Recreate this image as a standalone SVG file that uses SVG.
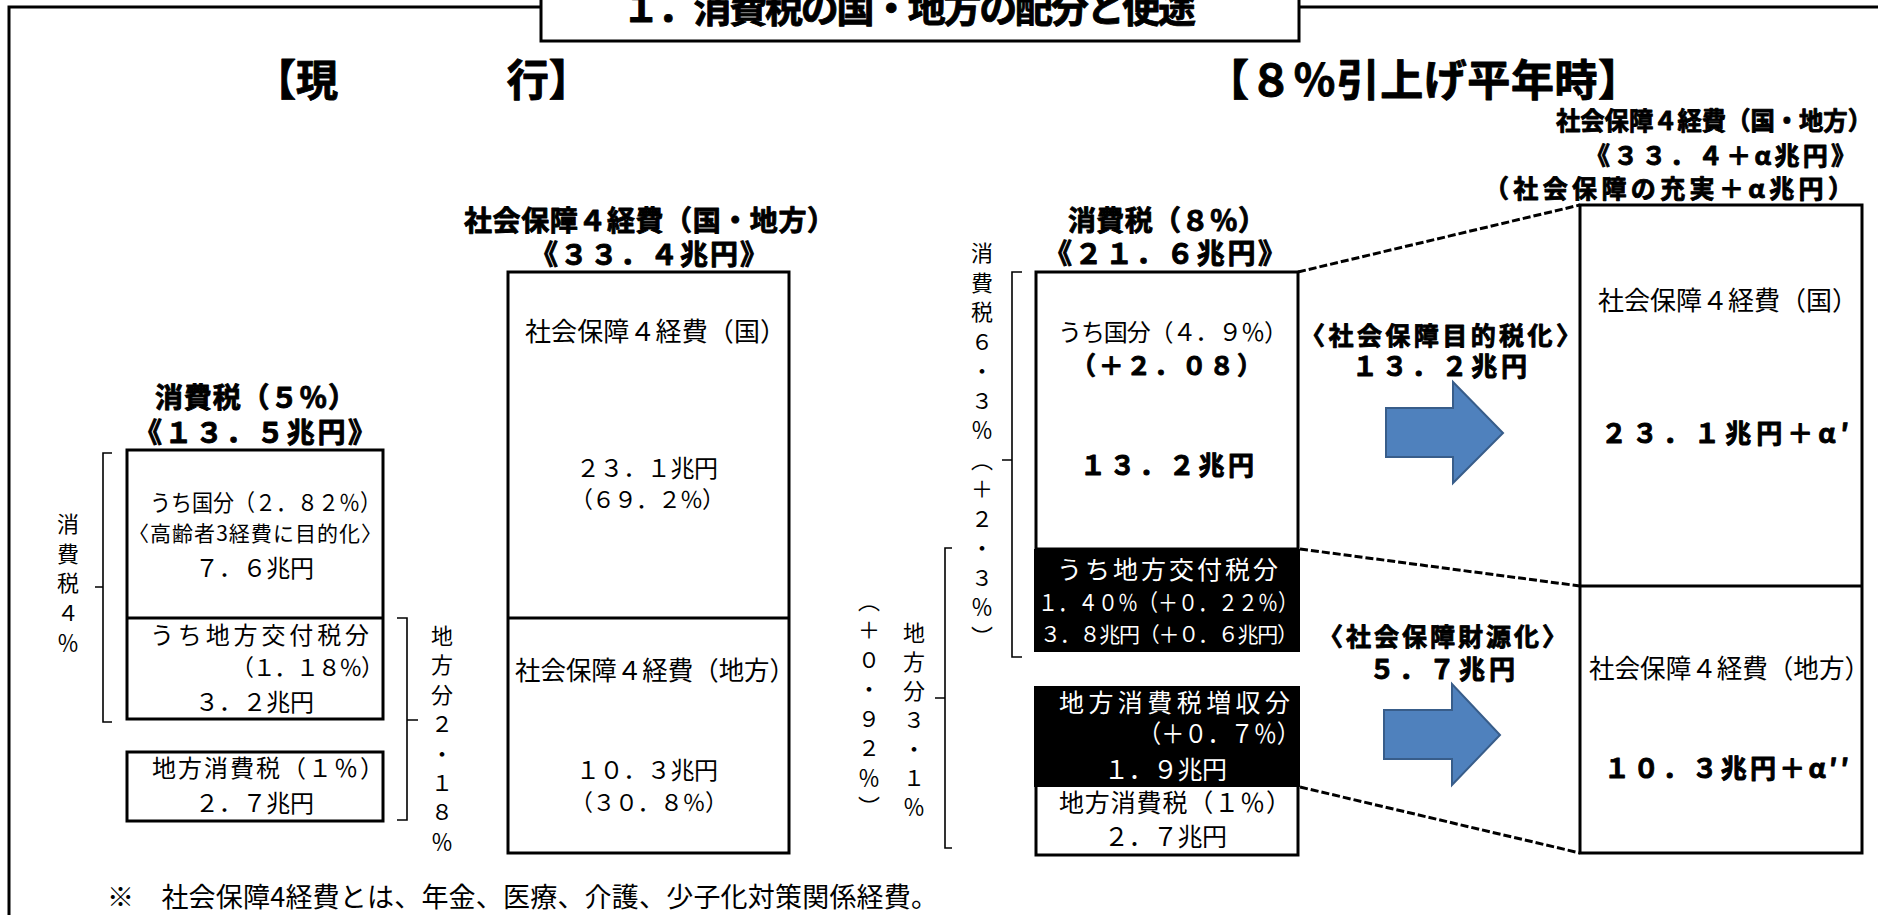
<svg xmlns="http://www.w3.org/2000/svg" width="1878" height="915" viewBox="0 0 1878 915" lang="ja">
<style>
.t{font-family:'Noto Sans CJK JP','Noto Sans CJK SC',sans-serif;fill:#000;font-weight:400}
.b{font-weight:700;stroke:#000;stroke-width:0.9;stroke-linejoin:round}
.w{fill:#fff}
.box{fill:#fff;stroke:#000;stroke-width:3}
.blk{fill:#000}
.br{fill:none;stroke:#000;stroke-width:1.6}
.dash{fill:none;stroke:#000;stroke-width:3;stroke-dasharray:8 3}
.arrow{fill:#4F81BD;stroke:#385D8A;stroke-width:2}
.frame{fill:none;stroke:#000;stroke-width:3}
</style>
<rect x="0" y="0" width="1878" height="915" fill="#fff"/>
<rect class="frame" x="9" y="7" width="1900" height="1000"/>

<g id="title">
<rect class="box" x="541" y="-30" width="758" height="71"/>
<text class="t b" x="622" y="22" font-size="38" textLength="574">１．消費税の国・地方の配分と使途</text>
</g>

<g id="heading-current">
<text class="t b" x="254" y="96" font-size="43" textLength="337" lengthAdjust="spacingAndGlyphs">【現　　　　行】</text>
</g>
<g id="heading-8pct">
<text class="t b" x="1206" y="96" font-size="43" textLength="435">【８％引上げ平年時】</text>
</g>

<g id="connectors">
<path class="dash" d="M1298,272 L1580,205"/>
<path class="dash" d="M1300,549 L1580,586"/>
<path class="dash" d="M1300,787 L1580,853"/>
</g>

<g id="brackets">
<path class="br" d="M112,453 H103 V722 H112 M103,587 H95"/>
<path class="br" d="M397,618 H407 V820 H397 M407,720 H418"/>
<path class="br" d="M1022,272 H1012 V657 H1022 M1012,460 H1002"/>
<path class="br" d="M952,548 H945 V848 H952 M945,698 H935"/>
</g>

<g id="vlabel-tax4">
<text class="t" font-size="22" text-anchor="middle"><tspan x="68" y="532">消</tspan><tspan x="68" y="562">費</tspan><tspan x="68" y="591">税</tspan><tspan x="68" y="621">４</tspan><tspan x="68" y="651">％</tspan></text>
</g>
<g id="vlabel-local218">
<text class="t" font-size="22" text-anchor="middle"><tspan x="442" y="644">地</tspan><tspan x="442" y="673">方</tspan><tspan x="442" y="703">分</tspan><tspan x="442" y="732">２</tspan><tspan x="442" y="762">・</tspan><tspan x="442" y="791">１</tspan><tspan x="442" y="820">８</tspan><tspan x="442" y="850">％</tspan></text>
</g>
<g id="vlabel-tax63">
<text class="t" font-size="22" text-anchor="middle"><tspan x="982" y="261">消</tspan><tspan x="982" y="290.5">費</tspan><tspan x="982" y="320">税</tspan><tspan x="982" y="349.5">６</tspan><tspan x="982" y="379">・</tspan><tspan x="982" y="408.5">３</tspan><tspan x="982" y="438">％</tspan><tspan x="982" y="467.5">︵</tspan><tspan x="982" y="497">＋</tspan><tspan x="982" y="526.5">２</tspan><tspan x="982" y="556">・</tspan><tspan x="982" y="585.5">３</tspan><tspan x="982" y="615">％</tspan><tspan x="982" y="644.5">︶</tspan></text>
</g>
<g id="vlabel-plus092">
<text class="t" font-size="22" text-anchor="middle"><tspan x="869" y="608.5">︵</tspan><tspan x="869" y="638">＋</tspan><tspan x="869" y="667.5">０</tspan><tspan x="869" y="697">・</tspan><tspan x="869" y="726.5">９</tspan><tspan x="869" y="756">２</tspan><tspan x="869" y="785.5">％</tspan><tspan x="869" y="815">︶</tspan></text>
</g>
<g id="vlabel-local31">
<text class="t" font-size="22" text-anchor="middle"><tspan x="914" y="641">地</tspan><tspan x="914" y="670">方</tspan><tspan x="914" y="699">分</tspan><tspan x="914" y="728">３</tspan><tspan x="914" y="757">・</tspan><tspan x="914" y="786">１</tspan><tspan x="914" y="815">％</tspan></text>
</g>

<g id="box-tax5">
<text class="t b" x="155" y="408" font-size="28" textLength="201">消費税（５％）</text>
<text class="t b" x="134" y="443" font-size="28" textLength="242">《１３．５兆円》</text>
<rect class="box" x="127" y="450" width="256" height="269"/>
<line x1="127" y1="618" x2="383" y2="618" stroke="#000" stroke-width="3"/>
<text class="t" x="150" y="511" font-size="23" textLength="231" lengthAdjust="spacingAndGlyphs">うち国分（２．８２％）</text>
<text class="t" x="128" y="541" font-size="21" textLength="254">〈高齢者3経費に目的化〉</text>
<text class="t" x="195" y="577" font-size="24" textLength="119">７．６兆円</text>
<text class="t" x="150" y="644" font-size="24" textLength="219">うち地方交付税分</text>
<text class="t" x="231" y="676" font-size="23" textLength="153">（１．１８％）</text>
<text class="t" x="195" y="711" font-size="24" textLength="119">３．２兆円</text>
</g>

<g id="box-localtax1">
<rect class="box" x="127" y="752" width="256" height="69"/>
<text class="t" x="152" y="777" font-size="24" textLength="232">地方消費税（１％）</text>
<text class="t" x="195" y="812" font-size="24" textLength="119">２．７兆円</text>
</g>

<g id="box-ss-current">
<text class="t b" x="464" y="231" font-size="28" textLength="371">社会保障４経費（国・地方）</text>
<text class="t b" x="530" y="265" font-size="28" textLength="238">《３３．４兆円》</text>
<rect class="box" x="508" y="272" width="281" height="581"/>
<line x1="508" y1="618" x2="789" y2="618" stroke="#000" stroke-width="3"/>
<text class="t" x="525" y="341" font-size="26" textLength="261">社会保障４経費（国）</text>
<text class="t" x="576" y="477" font-size="24" textLength="142">２３．１兆円</text>
<text class="t" x="570" y="508" font-size="23" textLength="155">（６９．２％）</text>
<text class="t" x="515" y="680" font-size="26" textLength="280" lengthAdjust="spacingAndGlyphs">社会保障４経費（地方）</text>
<text class="t" x="576" y="779" font-size="24" textLength="142">１０．３兆円</text>
<text class="t" x="570" y="811" font-size="23" textLength="158">（３０．８％）</text>
</g>

<g id="box-tax8">
<text class="t b" x="1068" y="231" font-size="28" textLength="198">消費税（８％）</text>
<text class="t b" x="1044" y="264" font-size="28" textLength="242">《２１．６兆円》</text>
<rect class="box" x="1036" y="272" width="262" height="277"/>
<text class="t" x="1058" y="341" font-size="24" textLength="230">うち国分（４．９％）</text>
<text class="t b" x="1071" y="375" font-size="25" textLength="191">（＋２．０８）</text>
<text class="t b" x="1080" y="475" font-size="26" textLength="174">１３．２兆円</text>
<rect class="blk" x="1034" y="549" width="266" height="103"/>
<text class="t w" x="1057" y="579" font-size="25" textLength="221">うち地方交付税分</text>
<text class="t w" x="1038" y="611" font-size="23" textLength="260" lengthAdjust="spacingAndGlyphs">１．４０％（＋０．２２％）</text>
<text class="t w" x="1040" y="642" font-size="21" textLength="258">３．８兆円（＋０．６兆円）</text>
<rect class="blk" x="1034" y="686" width="266" height="101"/>
<text class="t w" x="1059" y="712" font-size="25" textLength="231">地方消費税増収分</text>
<text class="t w" x="1138" y="743" font-size="25" textLength="162" lengthAdjust="spacingAndGlyphs">（＋０．７％）</text>
<text class="t w" x="1104" y="779" font-size="25" textLength="123">１．９兆円</text>
<path d="M1036,787 V855 H1298 V787" fill="#fff" stroke="#000" stroke-width="3"/>
<text class="t" x="1059" y="812" font-size="25" textLength="232">地方消費税（１％）</text>
<text class="t" x="1104" y="846" font-size="25" textLength="123">２．７兆円</text>
</g>

<g id="arrow-national">
<text class="t b" x="1300" y="345" font-size="25" textLength="281">〈社会保障目的税化〉</text>
<text class="t b" x="1352" y="376" font-size="26" textLength="175">１３．２兆円</text>
<polygon class="arrow" points="1386,408 1453,408 1453,382 1503,433 1453,483 1453,457 1386,457"/>
</g>

<g id="arrow-local">
<text class="t b" x="1318" y="646" font-size="25" textLength="249">〈社会保障財源化〉</text>
<text class="t b" x="1369" y="679" font-size="26" textLength="146">５．７兆円</text>
<polygon class="arrow" points="1384,710 1452,710 1452,684 1500,735 1452,785 1452,759 1384,759"/>
</g>

<g id="box-ss-8pct">
<text class="t b" x="1556" y="130" font-size="25" textLength="316" lengthAdjust="spacingAndGlyphs">社会保障４経費（国・地方）</text>
<text class="t b" x="1585" y="165" font-size="25" textLength="271">《３３．４＋α兆円》</text>
<text class="t b" x="1484" y="198" font-size="25" textLength="369">（社会保障の充実＋α兆円）</text>
<rect class="box" x="1580" y="205" width="282" height="648"/>
<line x1="1580" y1="586" x2="1862" y2="586" stroke="#000" stroke-width="3"/>
<text class="t" x="1598" y="310" font-size="26" textLength="260">社会保障４経費（国）</text>
<text class="t b" x="1601" y="443" font-size="26" textLength="248">２３．１兆円＋α′</text>
<text class="t" x="1589" y="678" font-size="26" textLength="281" lengthAdjust="spacingAndGlyphs">社会保障４経費（地方）</text>
<text class="t b" x="1604" y="778" font-size="26" textLength="245">１０．３兆円＋α′′</text>
</g>

<g id="footnote">
<text class="t" x="107" y="907" font-size="27" textLength="831">※　社会保障4経費とは、年金、医療、介護、少子化対策関係経費。</text>
</g>
</svg>
